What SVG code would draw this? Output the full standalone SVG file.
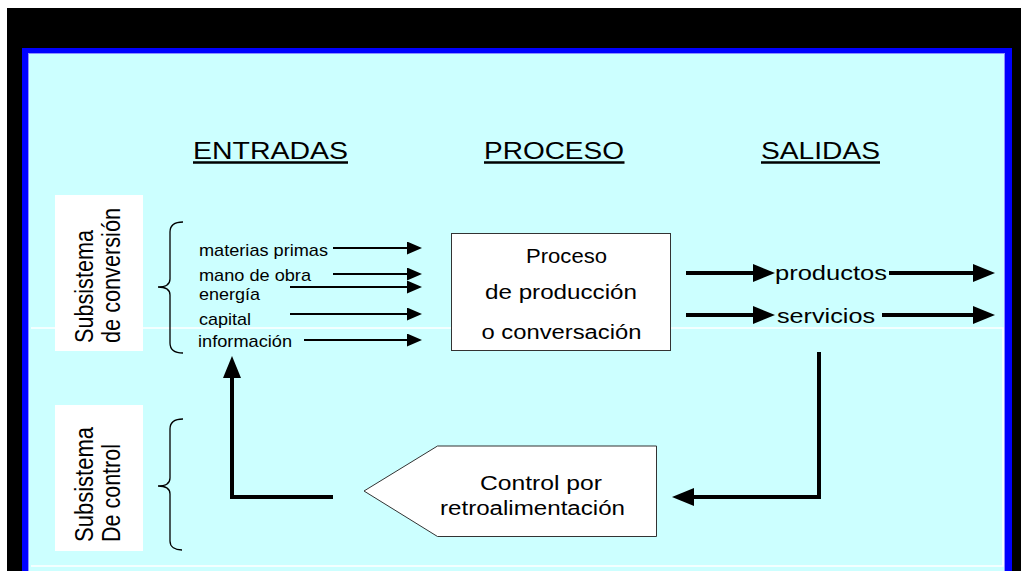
<svg xmlns="http://www.w3.org/2000/svg" width="1021" height="571" viewBox="0 0 1021 571">
<defs>
<style>
text{font-family:"Liberation Sans",Arial,sans-serif;fill:#000}
.hdr{font-size:23px}
.sm{font-size:17px}
.md{font-size:20px}
.side{font-size:21px}
.box{fill:#fff;stroke:#333;stroke-width:1}
.thin{stroke:#000;stroke-width:2;fill:none}
.thick{stroke:#000;stroke-width:4;fill:none}
.brace{stroke:#000;stroke-width:1.3;fill:none}
</style>
<marker id="hThin" markerUnits="userSpaceOnUse" markerWidth="16" markerHeight="14" refX="7" refY="6.5" orient="auto"><path d="M0,0 L15,6.5 L0,13 Z" fill="#000"/></marker>
<marker id="hThick" markerUnits="userSpaceOnUse" markerWidth="23" markerHeight="19" refX="12" refY="9" orient="auto"><path d="M0,0 L22,9 L0,18 Z" fill="#000"/></marker>
</defs>
<rect x="0" y="0" width="1021" height="571" fill="#fff"/>
<rect x="7" y="8" width="1014" height="563" fill="#000"/>
<rect x="22" y="48" width="990" height="530" fill="#0000ff"/>
<rect x="28.5" y="53.5" width="976" height="520" fill="#ccffff" stroke="#8f8fff" stroke-width="1"/>
<path d="M31,328 H1003 V566 H31" fill="none" stroke="#fff" stroke-width="1.5"/>

<g id="headers">
<text class="hdr" x="193" y="159" textLength="155" lengthAdjust="spacingAndGlyphs">ENTRADAS</text>
<line x1="193" y1="162.5" x2="348" y2="162.5" stroke="#000" stroke-width="2.5"/>
<text class="hdr" x="484" y="159" textLength="140" lengthAdjust="spacingAndGlyphs">PROCESO</text>
<line x1="484" y1="162.5" x2="624.5" y2="162.5" stroke="#000" stroke-width="2.5"/>
<text class="hdr" x="761" y="159" textLength="119" lengthAdjust="spacingAndGlyphs">SALIDAS</text>
<line x1="761" y1="162.5" x2="880" y2="162.5" stroke="#000" stroke-width="2.5"/>
</g>

<g id="sub-conversion">
<rect x="55" y="195" width="88" height="156" fill="#fff"/>
<text class="side" transform="translate(93 343) scale(1.2 1) rotate(-90)" textLength="113" lengthAdjust="spacingAndGlyphs">Subsistema</text>
<text class="side" transform="translate(120 343) scale(1.2 1) rotate(-90)" textLength="135" lengthAdjust="spacingAndGlyphs">de conversión</text>
<path class="brace" d="M183,222 C175,222 170,225 170,232 L170,279 C170,284 166,287 158,287 C166,287 170,290 170,295 L170,343 C170,350 175,353 183,353"/>
</g>

<g id="sub-control">
<rect x="55" y="405" width="88" height="146" fill="#fff"/>
<text class="side" transform="translate(93 542) scale(1.2 1) rotate(-90)" textLength="115" lengthAdjust="spacingAndGlyphs">Subsistema</text>
<text class="side" transform="translate(120 542) scale(1.2 1) rotate(-90)" textLength="98" lengthAdjust="spacingAndGlyphs">De control</text>
<path class="brace" d="M183,419 C175,419 170,422 170,429 L170,478 C170,483 166,486 158,486 C166,486 170,489 170,494 L170,541 C170,547 175,550 182,550"/>
</g>

<g id="entradas">
<text class="sm" x="199" y="256" textLength="129" lengthAdjust="spacingAndGlyphs">materias primas</text>
<text class="sm" x="199" y="280.5" textLength="112" lengthAdjust="spacingAndGlyphs">mano de obra</text>
<text class="sm" x="199" y="299.5" textLength="61" lengthAdjust="spacingAndGlyphs">energía</text>
<text class="sm" x="199" y="325" textLength="52" lengthAdjust="spacingAndGlyphs">capital</text>
<text class="sm" x="198" y="346.5" textLength="94" lengthAdjust="spacingAndGlyphs">información</text>
</g>

<g id="proceso">
<rect class="box" x="451.5" y="233.5" width="219" height="117"/>
<text class="md" x="526" y="262.5" textLength="81" lengthAdjust="spacingAndGlyphs">Proceso</text>
<text class="md" x="485" y="299" textLength="152" lengthAdjust="spacingAndGlyphs">de producción</text>
<text class="md" x="481.5" y="338.5" textLength="160" lengthAdjust="spacingAndGlyphs">o conversación</text>
</g>

<g id="salidas">
<text class="md" x="775" y="280" textLength="112" lengthAdjust="spacingAndGlyphs">productos</text>
<text class="md" x="777" y="322.5" textLength="98" lengthAdjust="spacingAndGlyphs">servicios</text>
</g>

<g id="control">
<polygon class="box" points="364,491 437.5,446 656.5,446 656.5,536.5 437.5,536.5"/>
<text class="md" x="480" y="490" textLength="122" lengthAdjust="spacingAndGlyphs">Control por</text>
<text class="md" x="440" y="515" textLength="185" lengthAdjust="spacingAndGlyphs">retroalimentación</text>
</g>

<g id="connectors">
<line class="thin" x1="333" y1="248" x2="414" y2="248" marker-end="url(#hThin)"/>
<line class="thin" x1="333" y1="274" x2="414" y2="274" marker-end="url(#hThin)"/>
<line class="thin" x1="290" y1="287" x2="414" y2="287" marker-end="url(#hThin)"/>
<line class="thin" x1="290" y1="314" x2="414" y2="314" marker-end="url(#hThin)"/>
<line class="thin" x1="304" y1="340" x2="414" y2="340" marker-end="url(#hThin)"/>
<line class="thick" x1="686" y1="273" x2="765" y2="273" marker-end="url(#hThick)"/>
<line class="thick" x1="889" y1="273" x2="985" y2="273" marker-end="url(#hThick)"/>
<line class="thick" x1="686" y1="315" x2="765" y2="315" marker-end="url(#hThick)"/>
<line class="thick" x1="882" y1="315" x2="985" y2="315" marker-end="url(#hThick)"/>
<polyline class="thick" points="819,352 819,497 682,497" marker-end="url(#hThick)"/>
<polyline class="thick" points="333,497 232,497 232,366" marker-end="url(#hThick)"/>
</g>
</svg>
